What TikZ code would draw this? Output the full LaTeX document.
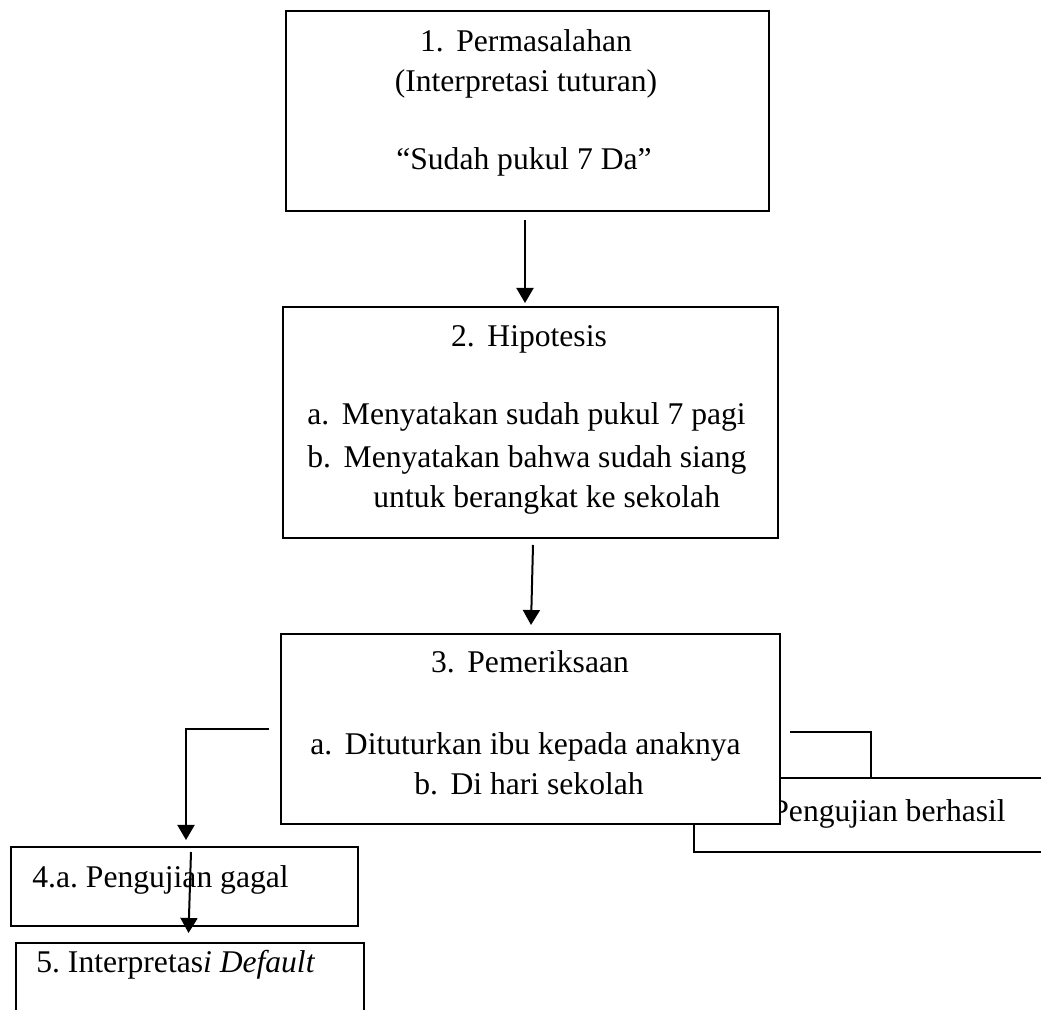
\documentclass[tikz,border=0pt]{standalone}
\usepackage{fontspec}
\setmainfont{Liberation Serif}
\usetikzlibrary{arrows.meta,positioning}

\tikzset{
  box/.style={draw, line width=1pt, fill=white, inner sep=0pt, anchor=north west},
  txt/.style={font=\fontsize{15.8}{20}\selectfont, inner sep=0pt},
  arr/.style={-{Triangle[width=8.5pt,length=7.5pt]}, line width=1pt},
  link/.style={line width=1pt},
}
\newcommand{\gap}{\hspace{0.4em}}
\frenchspacing

\begin{document}
\begin{tikzpicture}[x=0.5pt, y=-0.5pt]
\useasboundingbox (0,0) rectangle (1041,1010);
\clip (0,0) rectangle (1041,1010);

\node[box, minimum width=241.5pt, minimum height=100pt] (p1) at (285,10) {};
\node[box, minimum width=247.5pt, minimum height=115.5pt] (p2) at (282,306) {};
% box 4.b lies under box 3
\node[box, minimum width=183.5pt, minimum height=37pt] (p4b) at (693,777) {};
\node[txt, anchor=base west] (t4b) at (771,822) {Pengujian berhasil};
\node[box, minimum width=249.5pt, minimum height=95pt] (p3) at (280,633) {};
\node[box, minimum width=173.5pt, minimum height=39.5pt] (p4a) at (10,846) {};
\node[box, minimum width=174pt, minimum height=44pt] (p5) at (15,942) {};

\node[txt, anchor=base] (t1a) at (526,52) {1.\gap Permasalahan};
\node[txt, anchor=base] (t1b) at (526,92) {(Interpretasi tuturan)};
\node[txt, anchor=base] (t1c) at (524,170) {``Sudah pukul 7 Da''};

\node[txt, anchor=base] (t2a) at (529,347) {2.\gap Hipotesis};
\node[txt, anchor=base west] (t2b) at (307,425) {a.\gap Menyatakan sudah pukul 7 pagi};
\node[txt, anchor=base west] (t2c) at (307,468) {b.\gap Menyatakan bahwa sudah siang};
\node[txt, anchor=base west] (t2d) at (373,508) {untuk berangkat ke sekolah};

\node[txt, anchor=base] (t3a) at (530,673) {3.\gap Pemeriksaan};
\node[txt, anchor=base west] (t3b) at (310,755) {a.\gap Dituturkan ibu kepada anaknya};
\node[txt, anchor=base] (t3c) at (529,795) {b.\gap Di hari sekolah};

\node[txt, anchor=base west] (t4a) at (32,888) {4.a. Pengujian gagal};
\node[txt, anchor=base west] (t5) at (36,973) {5. Interpretas\textit{i Default}};

\draw[arr] ([shift={(-2.5,8)}]p1.south) -- ([shift={(-5.5,-3)}]p2.north);
\draw[arr] ([shift={(2.5,6)}]p2.south) -- ([shift={(0.5,-8)}]p3.north);
\draw[arr] ([shift={(-11,0)}]p3.west) -| ([shift={(1.5,-6)}]p4a.north);
\draw[link] ([shift={(9,3)}]p3.east) -| ([shift={(178,0)}]p4b.north west);
\draw[arr] ([shift={(181,6)}]p4a.north west) -- ([shift={(-1.5,-9)}]p5.north);
\end{tikzpicture}
\end{document}
